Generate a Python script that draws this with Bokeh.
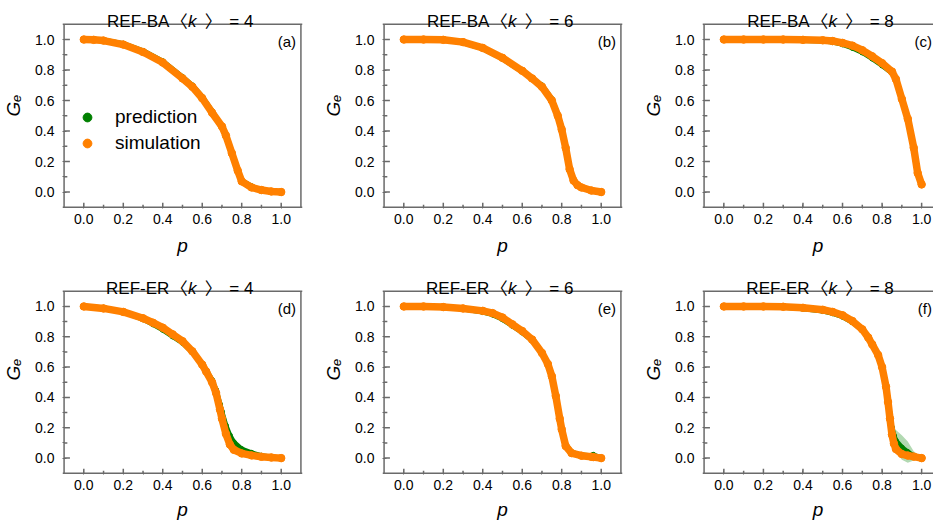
from bokeh.plotting import figure
from bokeh.layouts import gridplot
from bokeh.models import (Label, Legend, LegendItem, FixedTicker, NumeralTickFormatter,
                          Range1d, Span, Arrow)
from bokeh.embed import file_html
from bokeh.resources import INLINE

# ---------------- data ----------------
# (a) REF-BA <k> = 4
p_a = [0.0, 0.05, 0.1, 0.2, 0.3, 0.4, 0.5, 0.55, 0.6, 0.65, 0.7, 0.72, 0.75, 0.78, 0.8, 0.85, 0.9, 0.95, 1.0]
sim_a = [1.0, 0.998, 0.993, 0.967, 0.918, 0.849, 0.745, 0.69, 0.615, 0.52, 0.43, 0.37, 0.255, 0.14, 0.07, 0.03, 0.013, 0.004, 0.0]
pred_a = [1.0, 1.002, 0.997, 0.973, 0.926, 0.858, 0.755, 0.70, 0.625, 0.53, 0.43, 0.365, 0.245, 0.135, 0.075, 0.038, 0.012, 0.0, -0.005]
err_a = [0.003, 0.003, 0.004, 0.005, 0.006, 0.007, 0.008, 0.008, 0.01, 0.012, 0.015, 0.015, 0.015, 0.012, 0.01, 0.008, 0.006, 0.005, 0.004]

# (b) REF-BA <k> = 6
p_b = [0.0, 0.1, 0.2, 0.3, 0.4, 0.5, 0.6, 0.65, 0.7, 0.75, 0.78, 0.8, 0.82, 0.84, 0.86, 0.88, 0.9, 0.95, 1.0]
sim_b = [1.0, 1.0, 0.998, 0.983, 0.945, 0.88, 0.795, 0.745, 0.69, 0.6, 0.5, 0.41, 0.29, 0.15, 0.075, 0.045, 0.03, 0.01, 0.0]
pred_b = [1.0, 1.0, 1.0, 0.979, 0.94, 0.873, 0.79, 0.745, 0.70, 0.61, 0.51, 0.42, 0.29, 0.14, 0.07, 0.045, 0.03, 0.008, -0.004]
err_b = [0.002, 0.003, 0.004, 0.005, 0.006, 0.006, 0.007, 0.008, 0.009, 0.01, 0.012, 0.012, 0.012, 0.01, 0.008, 0.006, 0.005, 0.004, 0.003]

# (c) REF-BA <k> = 8
p_c = [0.0, 0.1, 0.2, 0.3, 0.4, 0.5, 0.55, 0.6, 0.65, 0.7, 0.75, 0.8, 0.85, 0.87, 0.9, 0.93, 0.96, 0.98, 1.0]
sim_c = [1.0, 1.0, 1.0, 1.0, 0.998, 0.995, 0.99, 0.978, 0.96, 0.93, 0.89, 0.845, 0.79, 0.74, 0.61, 0.48, 0.29, 0.125, 0.05]
pred_c = [1.0, 1.0, 0.999, 0.997, 0.993, 0.99, 0.983, 0.968, 0.945, 0.915, 0.875, 0.83, 0.78, 0.745, 0.615, 0.485, 0.29, 0.125, 0.05]
err_c = [0.002, 0.002, 0.003, 0.003, 0.004, 0.004, 0.005, 0.005, 0.006, 0.007, 0.008, 0.009, 0.01, 0.01, 0.01, 0.01, 0.008, 0.006, 0.004]

# (d) REF-ER <k> = 4
p_d = [0.0, 0.1, 0.2, 0.3, 0.35, 0.4, 0.45, 0.5, 0.55, 0.6, 0.62, 0.65, 0.67, 0.69, 0.7, 0.72, 0.74, 0.76, 0.8, 0.85, 0.9, 0.95, 1.0]
sim_d = [1.0, 0.987, 0.964, 0.922, 0.893, 0.86, 0.816, 0.771, 0.704, 0.616, 0.571, 0.5, 0.43, 0.32, 0.26, 0.16, 0.09, 0.055, 0.031, 0.018, 0.009, 0.004, 0.0]
pred_d = [1.0, 0.992, 0.966, 0.915, 0.882, 0.846, 0.802, 0.76, 0.698, 0.62, 0.58, 0.515, 0.45, 0.355, 0.305, 0.215, 0.15, 0.105, 0.06, 0.035, 0.016, 0.008, 0.0]
err_d = [0.004, 0.005, 0.006, 0.008, 0.009, 0.01, 0.01, 0.01, 0.01, 0.012, 0.013, 0.015, 0.018, 0.02, 0.022, 0.025, 0.025, 0.022, 0.015, 0.01, 0.006, 0.004, 0.003]

# (e) REF-ER <k> = 6
p_e = [0.0, 0.1, 0.2, 0.3, 0.4, 0.45, 0.5, 0.55, 0.6, 0.65, 0.7, 0.73, 0.75, 0.77, 0.79, 0.8, 0.82, 0.85, 0.9, 0.95, 0.96, 1.0]
sim_e = [1.0, 1.0, 0.996, 0.987, 0.971, 0.956, 0.927, 0.882, 0.838, 0.782, 0.693, 0.62, 0.54, 0.41, 0.26, 0.19, 0.08, 0.033, 0.016, 0.009, 0.007, 0.0]
pred_e = [1.0, 1.0, 0.994, 0.983, 0.963, 0.946, 0.915, 0.872, 0.828, 0.775, 0.69, 0.62, 0.54, 0.41, 0.265, 0.2, 0.09, 0.04, 0.02, 0.015, 0.022, 0.0]
err_e = [0.002, 0.003, 0.004, 0.005, 0.006, 0.006, 0.007, 0.008, 0.008, 0.009, 0.01, 0.01, 0.012, 0.012, 0.012, 0.012, 0.01, 0.008, 0.006, 0.005, 0.005, 0.003]

# (f) REF-ER <k> = 8
p_f = [0.0, 0.1, 0.2, 0.3, 0.4, 0.5, 0.55, 0.6, 0.65, 0.7, 0.73, 0.75, 0.78, 0.8, 0.82, 0.83, 0.84, 0.85, 0.86, 0.87, 0.9, 0.93, 0.96, 1.0]
sim_f = [1.0, 1.0, 1.0, 0.998, 0.991, 0.978, 0.964, 0.942, 0.904, 0.849, 0.795, 0.75, 0.68, 0.6, 0.47, 0.37, 0.26, 0.155, 0.095, 0.06, 0.027, 0.017, 0.01, 0.0]
pred_f = [1.0, 1.0, 0.999, 0.995, 0.985, 0.97, 0.955, 0.932, 0.895, 0.845, 0.79, 0.75, 0.68, 0.6, 0.48, 0.39, 0.29, 0.2, 0.15, 0.115, 0.07, 0.04, 0.015, 0.0]
err_f = [0.002, 0.002, 0.003, 0.004, 0.005, 0.006, 0.006, 0.007, 0.008, 0.01, 0.01, 0.01, 0.01, 0.01, 0.012, 0.02, 0.03, 0.05, 0.06, 0.07, 0.08, 0.07, 0.03, 0.005]

networks = ["REF-BA", "REF-BA", "REF-BA", "REF-ER", "REF-ER", "REF-ER"]
mean_degree = ["4", "6", "8", "4", "6", "8"]
panel_tags = ["(a)", "(b)", "(c)", "(d)", "(e)", "(f)"]
major_ticks = [0.0, 0.2, 0.4, 0.6, 0.8, 1.0]
minor_ticks = [0.1, 0.3, 0.5, 0.7, 0.9]
legend_labels = ["prediction", "simulation"]
box_edges = [-0.1, 1.1]   # data limits of the plotted box

# ---------------- styling ----------------
GREEN = "#008000"
ORANGE = "#FF8000"
GRAY = "#6a6a6a"
FONT = "Liberation Sans"
CJK = "Noto Sans CJK SC"
PX_PER_UNIT_ROW1 = 183 / 1.2
PX_PER_UNIT_ROW2 = 182 / 1.2
R0 = -0.108   # range start, a hair outside the box so its edges sit inside the frame


def make_panel(px, sim, pred, err, idx, width, height, bl, br, bt, bb, xend, px_unit,
               label_standoff, tag_x=1.075, with_legend=False):
    frame_h = height - bt - bb
    yend = R0 + frame_h / px_unit
    f = figure(width=width, height=height, output_backend="svg", toolbar_location=None,
               x_range=Range1d(R0, xend), y_range=Range1d(R0, yend),
               min_border_left=bl, min_border_right=br, min_border_top=bt, min_border_bottom=bb)
    f.grid.visible = False
    f.outline_line_color = None
    f.background_fill_color = "white"
    f.border_fill_color = "white"

    b0, b1 = box_edges
    lo = [a - e for a, e in zip(pred, err)]
    hi = [a + e for a, e in zip(pred, err)]
    f.varea(x=px, y1=lo, y2=hi, fill_color=GREEN, fill_alpha=0.3)
    r_pred = f.scatter(px, pred, size=5, color=GREEN, marker="circle")
    f.line(px, pred, line_color=GREEN, line_width=5, line_join="round", line_cap="round")
    f.line(px, sim, line_color=ORANGE, line_width=7.5, line_join="round", line_cap="round")
    r_sim = f.scatter(px, sim, size=7.5, color=ORANGE, marker="circle")

    # plot box: horizontal edges as spans, vertical edges as head-less arrows
    f.add_layout(Span(location=b0, dimension="width", line_color=GRAY, line_width=1.5))
    f.add_layout(Span(location=b1, dimension="width", line_color=GRAY, line_width=1.5))
    for xe in (b0, b1):
        f.add_layout(Arrow(end=None, x_start=xe, y_start=b0, x_end=xe, y_end=b1,
                           line_color=GRAY, line_width=1.5))

    # inward tick marks as short segments
    xs, ys = [], []
    for t in major_ticks + minor_ticks:
        L = (4.5 if t in major_ticks else 2.5) / px_unit
        xs.append([t, t]); ys.append([b0, b0 + L])
        xs.append([b0, b0 + L]); ys.append([t, t])
    f.multi_line(xs=xs, ys=ys, line_color=GRAY, line_width=1.5)

    for ax in (f.xaxis[0], f.yaxis[0]):
        ax.ticker = FixedTicker(ticks=major_ticks, minor_ticks=minor_ticks)
        ax.formatter = NumeralTickFormatter(format="0.0")
        ax.axis_line_color = None
        ax.major_tick_line_color = GRAY
        ax.minor_tick_line_color = GRAY
        ax.major_tick_in = 4
        ax.major_tick_out = 0
        ax.minor_tick_in = 2
        ax.minor_tick_out = 0
        ax.major_label_text_font = FONT
        ax.major_label_text_font_size = "14px"
        ax.major_label_text_color = "black"
        ax.axis_label_text_font = FONT
        ax.axis_label_text_font_style = "italic"
        ax.axis_label_text_color = "black"
    f.xaxis[0].axis_label = "p"
    f.xaxis[0].axis_label_text_font_size = "19px"
    f.xaxis[0].major_label_standoff = 5
    f.xaxis[0].axis_label_standoff = label_standoff
    f.yaxis[0].axis_label = "G\u2091"
    f.yaxis[0].axis_label_text_font_size = "19px"
    f.yaxis[0].major_label_standoff = 8
    f.yaxis[0].axis_label_standoff = 8

    ty = 1.117
    common = dict(x_units="data", y_units="data", text_font_size="17px",
                  text_color="black", text_baseline="alphabetic")
    f.add_layout(Label(x=0.55, y=ty, x_offset=-23, text=networks[idx], text_align="right",
                       text_font=FONT, **common))
    f.add_layout(Label(x=0.55, y=ty + 0.008, x_offset=-13, text="\u3008", text_align="center",
                       text_font=CJK, **common))
    f.add_layout(Label(x=0.55, y=ty, text="k", text_align="center", text_font_style="italic",
                       text_font=FONT, **common))
    f.add_layout(Label(x=0.55, y=ty + 0.008, x_offset=21, text="\u3009", text_align="center",
                       text_font=CJK, **common))
    f.add_layout(Label(x=0.55, y=ty, x_offset=37, text="= " + mean_degree[idx], text_align="left",
                       text_font=FONT, **common))
    f.add_layout(Label(x=tag_x, y=1.045, text=panel_tags[idx], text_align="right", text_baseline="top",
                       text_font=FONT, text_font_size="15px", text_color="black"))

    if with_legend:
        leg = Legend(items=[LegendItem(label=legend_labels[0], renderers=[r_pred]),
                            LegendItem(label=legend_labels[1], renderers=[r_sim])],
                     location=(14, 54), padding=0, margin=0, spacing=4,
                     glyph_width=22, glyph_height=22, label_height=22, label_standoff=17,
                     label_text_font=FONT, label_text_font_size="19px", label_text_color="black",
                     background_fill_alpha=0, border_line_alpha=0)
        f.add_layout(leg)
    return f


fa = make_panel(p_a, sim_a, pred_a, err_a, 0, 320, 262, 61, 18, 2, 54, 1.108, PX_PER_UNIT_ROW1, 8, with_legend=True)
fb = make_panel(p_b, sim_b, pred_b, err_b, 1, 320, 262, 61, 18, 2, 54, 1.108, PX_PER_UNIT_ROW1, 8)
fc = make_panel(p_c, sim_c, pred_c, err_c, 2, 293, 262, 59, 0, 2, 54, 1.06, PX_PER_UNIT_ROW1, 8, tag_x=1.052)
fd = make_panel(p_d, sim_d, pred_d, err_d, 3, 320, 262, 61, 18, 2, 50, 1.108, PX_PER_UNIT_ROW2, 6)
fe = make_panel(p_e, sim_e, pred_e, err_e, 4, 320, 262, 61, 18, 2, 50, 1.108, PX_PER_UNIT_ROW2, 6)
ff = make_panel(p_f, sim_f, pred_f, err_f, 5, 293, 262, 59, 0, 2, 50, 1.06, PX_PER_UNIT_ROW2, 6, tag_x=1.052)

grid = gridplot([[fa, fb, fc], [fd, fe, ff]], toolbar_location=None)

open("out.html", "w").write(file_html(grid, INLINE))
